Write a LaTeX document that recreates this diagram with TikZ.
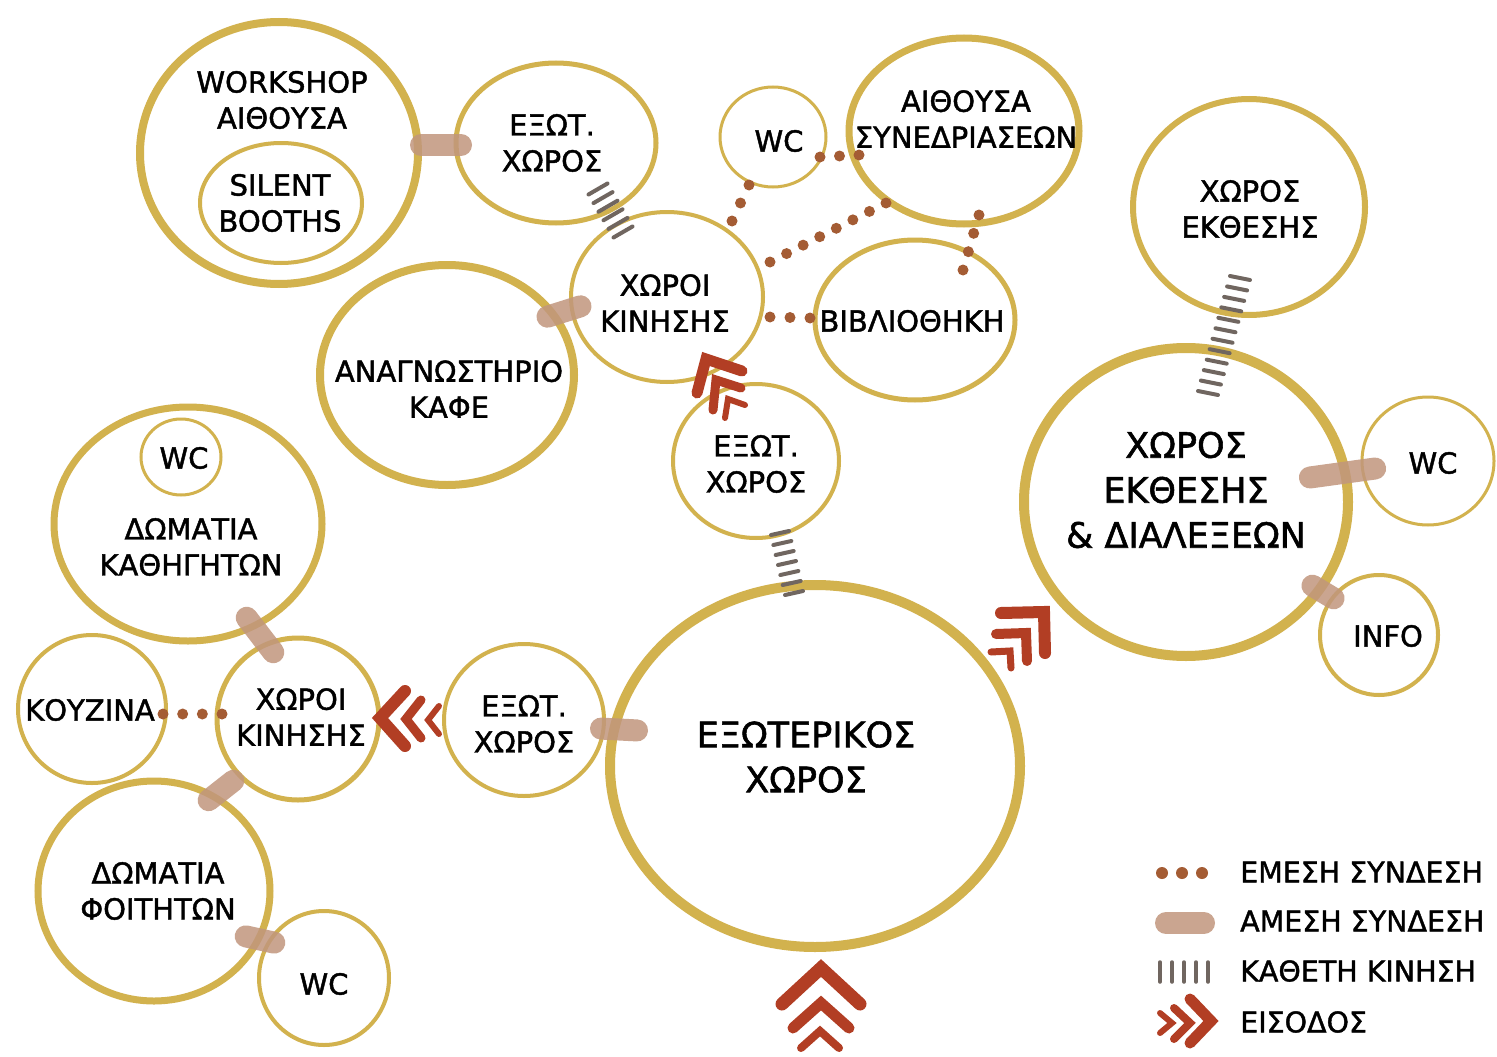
\documentclass[tikz,border=0pt]{standalone}
\usepackage{fontspec}
\setmainfont[FakeBold=1.5,AutoFakeBold=1.5]{DejaVu Sans}
\usetikzlibrary{shapes.geometric,calc}
\definecolor{gold}{RGB}{210,178,78}
\definecolor{barc}{RGB}{193,150,125}
\definecolor{dotc}{RGB}{164,92,52}
\definecolor{hatc}{RGB}{112,102,96}
\definecolor{chev}{RGB}{178,62,36}
\begin{document}
\begin{tikzpicture}[x=1pt,y=-1pt,
 room/.style={ellipse, draw=gold, inner sep=0pt, outer sep=0pt},
 lbl/.style={align=center, font=\fontsize{29}{36}\selectfont\bfseries, inner sep=0pt},
 biglbl/.style={align=center, font=\fontsize{35}{45}\selectfont\bfseries, inner sep=0pt},
 leg/.style={anchor=west, font=\fontsize{28.5}{34}\selectfont\bfseries, inner sep=0pt},
 bar/.style={draw=barc, line width=22pt, line cap=round, opacity=0.85, shorten <=11pt, shorten >=11pt},
 dotf/.style={fill=dotc},
 hatchline/.style={draw=hatc, line width=4pt, line cap=round},
 chevline/.style={draw=chev, line cap=round, line join=miter}
]
\useasboundingbox (0,0) rectangle (1497,1057);
\fill[white] (0,0) rectangle (1497,1057);

% rooms
\node[room, minimum width=278pt, minimum height=262pt, line width=8pt] (ws) at (279,153) {};
\node[room, minimum width=162pt, minimum height=120pt, line width=4pt] (sb) at (281,203) {};
\node[room, minimum width=200pt, minimum height=160pt, line width=5pt] (e1) at (556,143) {};
\node[room, minimum width=106pt, minimum height=100pt, line width=3pt] (wc1) at (773,137) {};
\node[room, minimum width=230pt, minimum height=186pt, line width=7pt] (ais) at (964,131) {};
\node[room, minimum width=192pt, minimum height=170pt, line width=4pt] (k1) at (667,297) {};
\node[room, minimum width=200pt, minimum height=160pt, line width=5pt] (bib) at (915,320) {};
\node[room, minimum width=254pt, minimum height=220pt, line width=8pt] (ana) at (447,375) {};
\node[room, minimum width=166pt, minimum height=154pt, line width=4pt] (m) at (756,461) {};
\node[room, minimum width=232pt, minimum height=216pt, line width=6pt] (ekth) at (1249,207) {};
\node[room, minimum width=324pt, minimum height=308pt, line width=10pt] (dial) at (1186,502) {};
\node[room, minimum width=132pt, minimum height=128pt, line width=3pt] (wcr) at (1428,461) {};
\node[room, minimum width=118pt, minimum height=120pt, line width=4pt] (info) at (1379,635) {};
\node[room, minimum width=410pt, minimum height=362pt, line width=10pt] (ext) at (815,766) {};
\node[room, minimum width=160pt, minimum height=152pt, line width=4pt] (e3) at (524,720) {};
\node[room, minimum width=162pt, minimum height=162pt, line width=5pt] (k2) at (298,719) {};
\node[room, minimum width=148pt, minimum height=148pt, line width=4pt] (kouz) at (92,709) {};
\node[room, minimum width=268pt, minimum height=234pt, line width=7pt] (kath) at (188,524) {};
\node[room, minimum width=80pt, minimum height=76pt, line width=3pt] (wcs) at (181,457) {};
\node[room, minimum width=232pt, minimum height=220pt, line width=7pt] (phoi) at (154,891) {};
\node[room, minimum width=130pt, minimum height=134pt, line width=4pt] (wcb) at (324,978) {};

% direct connections (bars)
\draw[bar] ($(ws)+(131,-8)$) -- ($(e1)+(-84,2)$);
\draw[bar] ($(ana)+(90,-55)$) -- ($(k1)+(-76,6)$);
\draw[bar] ($(kath)+(52,85)$) -- ($(k2)+(-18,-58)$);
\draw[bar] ($(k2)+(-56,55)$) -- ($(phoi)+(46,-84)$);
\draw[bar] ($(phoi)+(81,43)$) -- ($(wcb)+(-39,-33)$);
\draw[bar] ($(e3)+(66,8)$) -- ($(ext)+(-167,-35)$);
\draw[bar] ($(dial)+(113,-23)$) -- ($(wcr)+(-42,6)$);
\draw[bar] ($(dial)+(117,78)$) -- ($(info)+(-36,-31)$);

% indirect connections (dots)
\coordinate (d1a) at ($(wc1)+(47,20)$);  \coordinate (d1b) at ($(ais)+(-105,24)$);
\coordinate (d2a) at ($(wc1)+(-24,48)$); \coordinate (d2b) at ($(k1)+(65,-76)$);
\coordinate (d3a) at ($(ais)+(-78,72)$); \coordinate (d3b) at ($(k1)+(103,-35)$);
\coordinate (d4a) at ($(ais)+(15,84)$);  \coordinate (d4b) at ($(bib)+(48,-50)$);
\coordinate (d5a) at ($(k1)+(103,20)$);  \coordinate (d5b) at ($(bib)+(-105,-2)$);
\coordinate (d6a) at ($(kouz)+(71,5)$);  \coordinate (d6b) at ($(k2)+(-76,-5)$);
\foreach \a/\b/\n in {d1a/d1b/2, d2a/d2b/2, d3a/d3b/7, d4a/d4b/3, d5a/d5b/2, d6a/d6b/3}{
  \foreach \i in {0,...,\n} \fill[dotf] ($(\a)!\i/\n!(\b)$) circle (5.5);
}

% vertical movement (hatching)
\coordinate (h1a) at ($(e1)+(42,46)$);    \coordinate (h1b) at ($(k1)+(-44,-65)$);
\coordinate (h2a) at ($(m)+(24,72)$);     \coordinate (h2b) at ($(ext)+(-21,-173)$);
\coordinate (h3a) at ($(ekth)+(-9,71)$);  \coordinate (h3b) at ($(dial)+(22,-109)$);
\foreach \a/\b/\n/\dx/\dy in {h1a/h1b/5/9.5/-5.5, h2a/h2b/6/9/-2, h3a/h3b/11/10/2}{
  \foreach \i in {0,...,\n}{
    \coordinate (hp) at ($(\a)!\i/\n!(\b)$);
    \draw[hatchline] ($(hp)-(\dx,\dy)$) -- ($(hp)+(\dx,\dy)$);
  }
}

% entrances (chevrons)
\draw[chevline, line width=13pt] ($(ext)+(-33,238)$) -- ($(ext)+(6,202)$) -- ($(ext)+(45,238)$);
\draw[chevline, line width=11pt] ($(ext)+(-22,262)$) -- ($(ext)+(6,237)$) -- ($(ext)+(34,262)$);
\draw[chevline, line width=8pt] ($(ext)+(-14,282)$) -- ($(ext)+(5,265)$) -- ($(ext)+(24,282)$);

\draw[chevline, line width=12pt] ($(k2)+(107,-28)$) -- ($(k2)+(82,-1)$) -- ($(k2)+(107,27)$);
\draw[chevline, line width=9pt] ($(k2)+(123,-19)$) -- ($(k2)+(108,0)$) -- ($(k2)+(123,19)$);
\draw[chevline, line width=6pt] ($(k2)+(141,-13)$) -- ($(k2)+(130,1)$) -- ($(k2)+(141,15)$);

\draw[chevline, line width=11pt] ($(k1)+(75,74)$) -- ($(k1)+(39,62)$) -- ($(k1)+(30,96)$);
\draw[chevline, line width=9pt] ($(k1)+(74,91)$) -- ($(k1)+(49,83)$) -- ($(k1)+(46,113)$);
\draw[chevline, line width=6pt] ($(k1)+(78,108)$) -- ($(k1)+(61,102)$) -- ($(k1)+(58,121)$);

\draw[chevline, line width=12pt] ($(ext)+(186,-153)$) -- ($(ext)+(229,-154)$) -- ($(ext)+(230,-113)$);
\draw[chevline, line width=10pt] ($(ext)+(181,-132)$) -- ($(ext)+(211,-133)$) -- ($(ext)+(212,-105)$);
\draw[chevline, line width=7pt] ($(ext)+(176,-114)$) -- ($(ext)+(195,-115)$) -- ($(ext)+(196,-98)$);

% labels
\node[lbl] (tws) at (282,100) {WORKSHOP\\ΑΙΘΟΥΣΑ};
\node[lbl] (tsb) at (280,203) {SILENT\\BOOTHS};
\node[lbl] (te1) at (552,143) {ΕΞΩΤ.\\ΧΩΡΟΣ};
\node[lbl] (twc1) at (779,141) {WC};
\node[lbl] (tais) at (966,119) {ΑΙΘΟΥΣΑ\\ΣΥΝΕΔΡΙΑΣΕΩΝ};
\node[lbl] (tk1) at (665,303) {ΧΩΡΟΙ\\ΚΙΝΗΣΗΣ};
\node[lbl] (tbib) at (912,321) {ΒΙΒΛΙΟΘΗΚΗ};
\node[lbl] (tana) at (449,389) {ΑΝΑΓΝΩΣΤΗΡΙΟ\\ΚΑΦΕ};
\node[lbl] (tm) at (756,464) {ΕΞΩΤ.\\ΧΩΡΟΣ};
\node[lbl] (tekth) at (1250,209) {ΧΩΡΟΣ\\ΕΚΘΕΣΗΣ};
\node[biglbl] (tdial) at (1186,490) {ΧΩΡΟΣ\\ΕΚΘΕΣΗΣ\\\& ΔΙΑΛΕΞΕΩΝ};
\node[lbl] (twcr) at (1433,463) {WC};
\node[lbl] (tinfo) at (1388,636) {INFO};
\node[biglbl] (text) at (806,757) {ΕΞΩΤΕΡΙΚΟΣ\\ΧΩΡΟΣ};
\node[lbl] (te3) at (524,724) {ΕΞΩΤ.\\ΧΩΡΟΣ};
\node[lbl] (tk2) at (301,717) {ΧΩΡΟΙ\\ΚΙΝΗΣΗΣ};
\node[lbl] (tkouz) at (90,710) {ΚΟΥΖΙΝΑ};
\node[lbl] (twcs) at (184,458) {WC};
\node[lbl] (tkath) at (191,547) {ΔΩΜΑΤΙΑ\\ΚΑΘΗΓΗΤΩΝ};
\node[lbl] (tphoi) at (158,891) {ΔΩΜΑΤΙΑ\\ΦΟΙΤΗΤΩΝ};
\node[lbl] (twcb) at (324,984) {WC};

% legend
\node[leg] (l1) at (1240,872) {ΕΜΕΣΗ ΣΥΝΔΕΣΗ};
\node[leg] (l2) at (1240,921) {ΑΜΕΣΗ ΣΥΝΔΕΣΗ};
\node[leg] (l3) at (1240,971) {ΚΑΘΕΤΗ ΚΙΝΗΣΗ};
\node[leg] (l4) at (1240,1022) {ΕΙΣΟΔΟΣ};
\foreach \dx in {-78,-58,-38} \fill[dotf] ($(l1.west)+(\dx,1)$) circle (6);
\draw[bar, shorten <=0pt, shorten >=0pt] ($(l2.west)+(-74,2)$) -- ($(l2.west)+(-36,2)$);
\foreach \dx in {-80,-68,-56,-44,-32} \draw[hatchline, line width=3.5pt] ($(l3.west)+(\dx,-9)$) -- ($(l3.west)+(\dx,11)$);
\draw[chevline, line width=11pt] ($(l4.west)+(-50,-23)$) -- ($(l4.west)+(-29,-1)$) -- ($(l4.west)+(-50,21)$);
\draw[chevline, line width=8pt] ($(l4.west)+(-66,-14)$) -- ($(l4.west)+(-50,1)$) -- ($(l4.west)+(-66,17)$);
\draw[chevline, line width=6pt] ($(l4.west)+(-80,-9)$) -- ($(l4.west)+(-68,1)$) -- ($(l4.west)+(-80,11)$);
\end{tikzpicture}
\end{document}
